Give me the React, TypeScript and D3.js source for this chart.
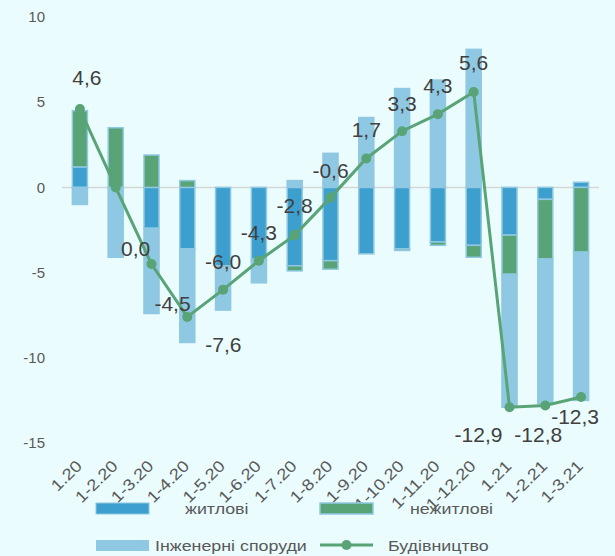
import React from 'react';
import * as d3 from 'd3';

const months = ['1.20', '1-2.20', '1-3.20', '1-4.20', '1-5.20', '1-6.20', '1-7.20', '1-8.20', '1-9.20', '1-10.20', '1-11.20', '1-12.20', '1.21', '1-2.21', '1-3.21'];
const residential = [1.2, 0.0, -2.4, -3.6, -4.6, -4.2, -4.6, -4.3, -3.9, -3.6, -3.2, -3.4, -2.8, -0.7, 0.3];
const nonResidential = [3.3, 3.5, 1.9, 0.4, -0.1, -0.1, -0.3, -0.5, 0.0, -0.1, -0.2, -0.7, -2.3, -3.5, -3.8];
const engineering = [-1.0, -4.1, -5.0, -5.5, -2.5, -1.3, 0.4, 2.0, 4.1, 5.8, 6.3, 8.1, -7.8, -8.5, -8.7];
const construction = [4.6, 0.0, -4.5, -7.6, -6.0, -4.3, -2.8, -0.6, 1.7, 3.3, 4.3, 5.6, -12.9, -12.8, -12.3];
const yTicks = [10, 5, 0, -5, -10, -15];

// label nudges relative to each line point (px)
const labelShift = [[7, -31], [20, 61], [21, 40], [36, 28], [0, -28], [0, -28], [0, -29], [0, -27], [0, -29], [0, -28], [0, -28], [0, -29], [-31, 27], [-7, 29], [-6, 20]];

const W = 615, H = 556;
const C_RES = '#3d9fcd', C_NON = '#59a476', C_ENG = '#8fc8e2', BG = '#eafcfd';
const FONT = '"Liberation Sans", Arial, sans-serif';

const keys = ['res', 'non', 'eng'];
const colors: Record<string, string> = { res: C_RES, non: C_NON, eng: C_ENG };

export default function App() {
  const x = d3.scaleBand<string>().domain(months).range([62, 599]).paddingInner(0.58).paddingOuter(0.29);
  const y = d3.scaleLinear().domain([-15, 10]).range([443, 17]);

  const rows = months.map((m, i) => ({ m, res: residential[i], non: nonResidential[i], eng: engineering[i] }));
  const series = d3.stack<any>().keys(keys).offset(d3.stackOffsetDiverging)(rows);

  const cx = (m: string) => (x(m) as number) + x.bandwidth() / 2;
  const line = d3.line<number>().x((_, i) => cx(months[i])).y(d => y(d));
  const fmt = (v: number) => v.toFixed(1).replace('.', ',');

  // legend text is a bit wider than plain Arial in the source
  const legText = (tx: number, ty: number, s: string) => (
    <text transform={`translate(${tx},${ty}) scale(1.15,1)`}>{s}</text>
  );

  return (
    <svg width={W} height={H} style={{ position: 'absolute', left: 0, top: 0, background: BG }} fontFamily={FONT}>
      <rect width={W} height={H} fill={BG} />
      {yTicks.map(t => (
        <text key={t} x={45} y={y(t)} dy="0.35em" textAnchor="end" fontSize={15} fill="#595959">{t}</text>
      ))}
      <line x1={62} x2={599} y1={y(0)} y2={y(0)} stroke="#d6d6d6" strokeWidth={1.5} />
      {series.map(s => (
        <g key={s.key}>
          {s.map((d, i) => (
            <rect key={i} x={x(months[i])} width={x.bandwidth()}
              y={y(Math.max(d[0], d[1]))} height={Math.abs(y(d[0]) - y(d[1]))}
              fill={colors[s.key]} stroke={C_ENG} strokeWidth={1.5} />
          ))}
        </g>
      ))}
      <path d={line(construction) as string} fill="none" stroke={C_NON} strokeWidth={3} />
      {construction.map((v, i) => (
        <circle key={i} cx={cx(months[i])} cy={y(v)} r={5} fill={C_NON} />
      ))}
      {construction.map((v, i) => (
        <text key={i} x={cx(months[i]) + labelShift[i][0]} y={y(v) + labelShift[i][1]} dy="0.35em"
          textAnchor="middle" fontSize={21} fill="#404040">{fmt(v)}</text>
      ))}
      {months.map(m => (
        <text key={m} transform={`translate(${cx(m) - 1},${463}) rotate(-45) scale(1.15,1)`} textAnchor="end" dy="0.35em"
          fontSize={16} fill="#595959">{m}</text>
      ))}
      <g fontSize={15.5} fill="#595959">
        <rect x={96} y={503} width={53} height={11} fill={C_RES} stroke={C_ENG} strokeWidth={1} />
        {legText(185, 514, 'житлові')}
        <rect x={320} y={503} width={53} height={11} fill={C_NON} stroke={C_ENG} strokeWidth={1.5} />
        {legText(410, 514, 'нежитлові')}
        <rect x={96} y={540} width={53} height={11} fill={C_ENG} />
        {legText(155, 551, 'Інженерні споруди')}
        <line x1={320} x2={373} y1={545} y2={545} stroke={C_NON} strokeWidth={3} />
        <circle cx={346.5} cy={545} r={5} fill={C_NON} />
        {legText(388, 551, 'Будівництво')}
      </g>
    </svg>
  );
}
